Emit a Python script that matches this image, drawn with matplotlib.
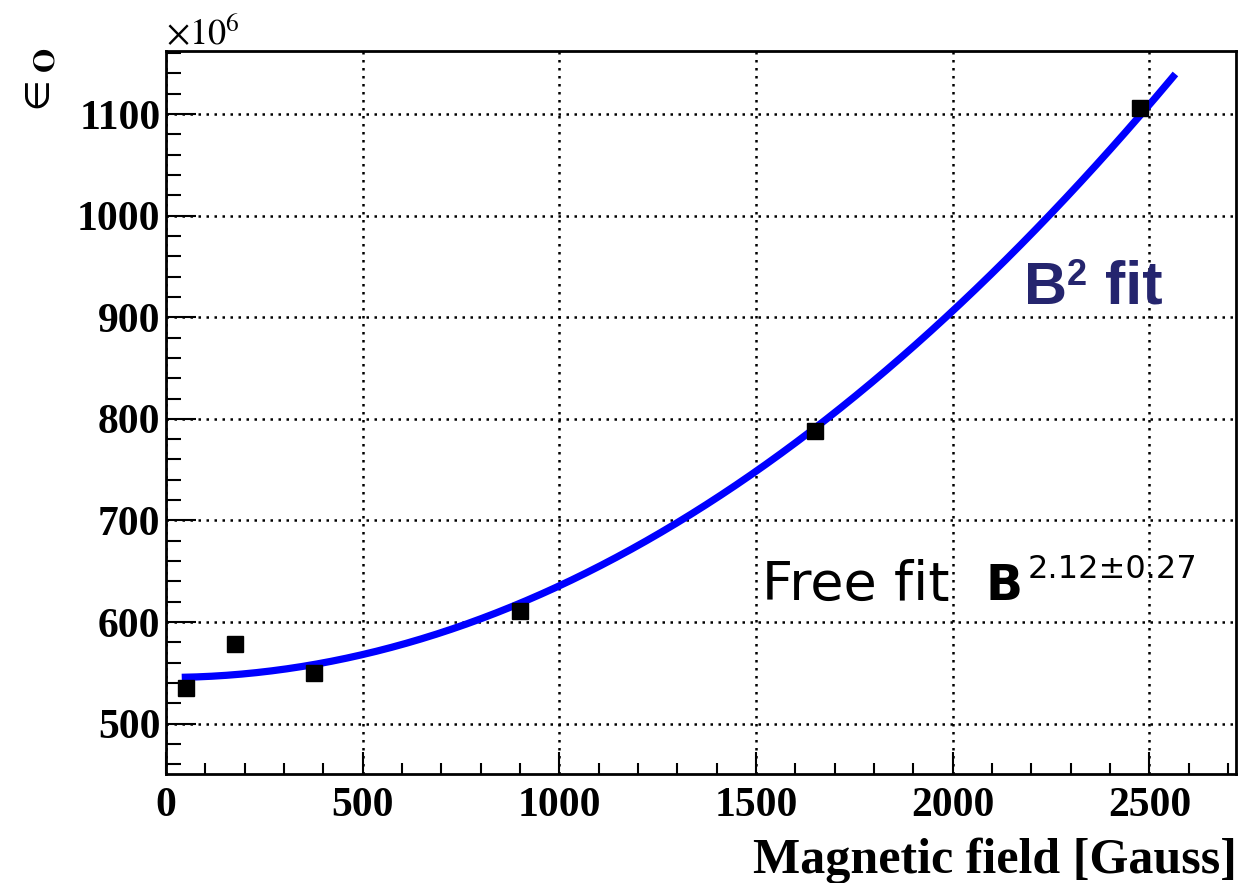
"""Energy parameter vs magnetic field, with B^2 fit."""

import numpy as np
import matplotlib
matplotlib.use("Agg")
import matplotlib.pyplot as plt
from matplotlib.ticker import MultipleLocator

# measured points (x in Gauss, y in units of 1e6)
field = [50, 175, 375, 900, 1650, 2475]
eps_o = [535, 578, 550, 611, 788, 1106]

# B^2 fit: y = fit_a + fit_b * B^2, drawn over this range
fit_a = 545.5
fit_b = 9.02e-5
fit_range = (40, 2566)

x_ticks = [0, 500, 1000, 1500, 2000, 2500]
y_ticks = [500, 600, 700, 800, 900, 1000, 1100]

W, H = 1245, 883
fig = plt.figure(figsize=(W / 100, H / 100), dpi=100)
ax = fig.add_axes([166 / W, 1 - 774 / H, (1236 - 166) / W, (774 - 51) / H])

bf = np.linspace(fit_range[0], fit_range[1], 200)
ax.plot(bf, fit_a + fit_b * bf ** 2, color="#0000ff", lw=5.2,
        solid_capstyle="butt", zorder=3)
ax.plot(field, eps_o, "s", color="black", ms=12, zorder=4)

ax.set_xlim(0, 2720)
ax.set_ylim(450.5, 1162)
ax.set_xticks(x_ticks)
ax.set_yticks(y_ticks)
ax.xaxis.set_minor_locator(MultipleLocator(100))
ax.yaxis.set_minor_locator(MultipleLocator(20))

tick_font = dict(family="Liberation Serif", weight="bold", size=30)
ax.set_xticklabels([str(v) for v in x_ticks], fontdict=tick_font)
ax.set_yticklabels([str(v) for v in y_ticks], fontdict=tick_font)
ax.tick_params(axis="x", which="major", direction="in", length=16, width=1.5, pad=9)
ax.tick_params(axis="x", which="minor", direction="in", length=8, width=1.5)
ax.tick_params(axis="y", which="major", direction="in", length=21.6, width=1.5, pad=4)
ax.tick_params(axis="y", which="minor", direction="in", length=10.8, width=1.5)

ax.grid(True, which="major", color="black", lw=1.8, linestyle=(0, (1, 2.2)))
ax.set_axisbelow(True)
for sp in ax.spines.values():
    sp.set_linewidth(2)

fig.text(1237 / W, 1 - 873 / H, "Magnetic field [Gauss]", ha="right",
         va="baseline", family="Liberation Serif", weight="bold", size=36)
fig.text(16 / W, 1 - 48 / H, r"$\in_{\mathbf{O}}$", rotation=90, ha="left",
         va="top", size=32, math_fontfamily="stix")
fig.text(166 / W, 1 - 44 / H, r"$\times10^{6}$", ha="left", va="baseline",
         size=26, math_fontfamily="stix")

# "B^2 fit" label
navy = "#25256e"
fig.text(1024 / W, 1 - 304 / H, "B", ha="left", va="baseline",
         family="Liberation Sans", weight="bold", size=43, color=navy)
fig.text(1067 / W, 1 - 285 / H, "2", ha="left", va="baseline",
         family="Liberation Sans", weight="bold", size=26, color=navy)
fig.text(1105 / W, 1 - 304 / H, "fit", ha="left", va="baseline",
         family="Liberation Sans", weight="bold", size=44, color=navy)

# "Free fit B^{2.12±0.27}" label
fig.text(762 / W, 1 - 600 / H, "Free fit", ha="left", va="baseline",
         family="DejaVu Sans", size=39)
fig.text(986 / W, 1 - 600 / H, "B", ha="left", va="baseline",
         family="DejaVu Sans", weight="bold", size=35)
fig.text(1028 / W, 1 - 578 / H, "2.12±0.27", ha="left", va="baseline",
         family="DejaVu Sans", size=23)

fig.savefig("out.png", dpi=100)
